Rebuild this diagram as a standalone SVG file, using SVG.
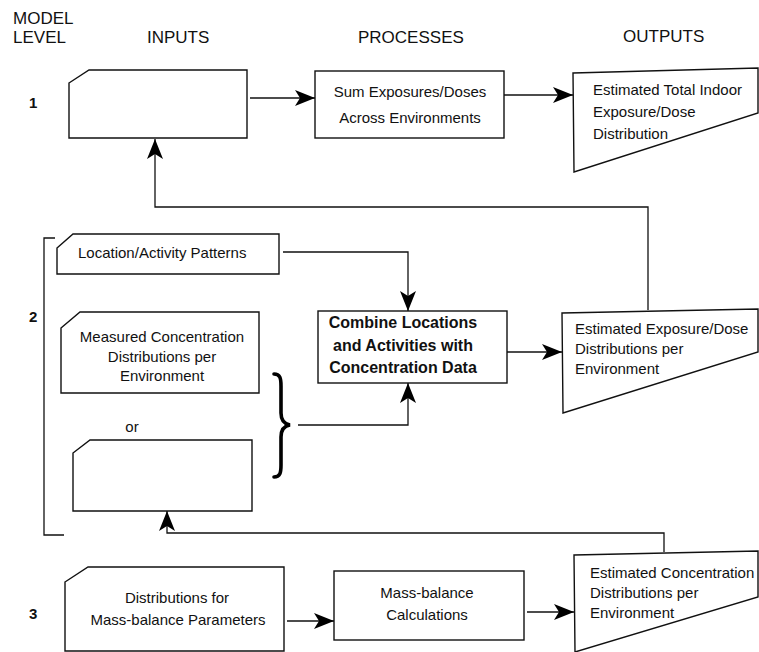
<svg xmlns="http://www.w3.org/2000/svg" width="759" height="652" viewBox="0 0 759 652">
<style>
  .shape { fill: #fff; stroke: #111; stroke-width: 1.4; }
  .line { fill: none; stroke: #111; stroke-width: 1.3; }
  .brace { fill: none; stroke: #000; stroke-width: 3.6; stroke-linecap: round; }
  text { font-family: "Liberation Sans", Arial, sans-serif; fill: #111; }
  .hdr { font-size: 17px; }
  .lvl { font-size: 15px; font-weight: bold; }
  .t { font-size: 15px; }
  .tb { font-size: 16px; font-weight: bold; }
  .c { text-anchor: middle; }
</style>
<defs>
  <marker id="arr" markerUnits="userSpaceOnUse" markerWidth="22" markerHeight="18" viewBox="-1 -9 22 18" refX="20" refY="0" orient="auto">
    <path d="M0,-8 L20,0 L0,8 L5,0 Z" fill="#000"/>
  </marker>
</defs>
<rect width="759" height="652" fill="#fff"/>

<g id="headers">
  <text class="hdr" x="13" y="24">MODEL</text>
  <text class="hdr" x="13" y="43">LEVEL</text>
  <text class="hdr" x="147" y="43">INPUTS</text>
  <text class="hdr" x="358" y="43">PROCESSES</text>
  <text class="hdr" x="623" y="42">OUTPUTS</text>
  <text class="lvl" x="29" y="108">1</text>
  <text class="lvl" x="29" y="322">2</text>
  <text class="lvl" x="29" y="619">3</text>
</g>

<g id="level2-bracket">
  <polyline class="line" points="55,238 44,238 44,535 64,535"/>
</g>

<g id="input1">
  <path class="shape" d="M69,83 L89,70 L247,70 L247,138 L69,138 Z"/>
</g>
<g id="process1">
  <rect class="shape" x="315" y="71" width="189" height="67"/>
  <text class="t c" x="410" y="97">Sum Exposures/Doses</text>
  <text class="t c" x="410" y="123">Across Environments</text>
</g>
<g id="output1">
  <path class="shape" d="M573,73 L758,68 L758,113 L574,172 Z"/>
  <text class="t" x="593" y="95">Estimated Total Indoor</text>
  <text class="t" x="593" y="117">Exposure/Dose</text>
  <text class="t" x="593" y="139">Distribution</text>
</g>

<g id="input-location">
  <path class="shape" d="M57,248 L73,234 L279,234 L279,274 L57,274 Z"/>
  <text class="t" x="78" y="258">Location/Activity Patterns</text>
</g>
<g id="input-measured">
  <path class="shape" d="M61,328 L80,312 L259,312 L259,393 L61,393 Z"/>
  <text class="t c" x="162" y="342">Measured Concentration</text>
  <text class="t c" x="162" y="362">Distributions per</text>
  <text class="t c" x="162" y="381">Environment</text>
</g>
<g id="or-label">
  <text class="t c" x="132" y="432">or</text>
</g>
<g id="input-or">
  <path class="shape" d="M73,453 L90,440 L252,440 L252,511 L73,511 Z"/>
</g>
<g id="brace">
  <path class="brace" d="M274,374 C280,374 281,378 281,386 L281,413 C281,420 284,424 290,425 C284,426 281,430 281,437 L281,465 C281,473 280,477 274,477"/>
</g>
<g id="process2">
  <rect class="shape" x="318" y="311" width="189" height="72"/>
  <text class="tb c" x="403" y="328">Combine Locations</text>
  <text class="tb c" x="403" y="351">and Activities with</text>
  <text class="tb c" x="403" y="373">Concentration Data</text>
</g>
<g id="output2">
  <path class="shape" d="M562,313 L758,309 L758,352 L563,413 Z"/>
  <text class="t" x="575" y="334">Estimated Exposure/Dose</text>
  <text class="t" x="575" y="354">Distributions per</text>
  <text class="t" x="575" y="374">Environment</text>
</g>

<g id="input3">
  <path class="shape" d="M65,582 L88,567 L284,567 L284,651 L65,651 Z"/>
  <text class="t c" x="177" y="603">Distributions for</text>
  <text class="t c" x="178" y="625">Mass-balance Parameters</text>
</g>
<g id="process3">
  <rect class="shape" x="334" y="571" width="190" height="69"/>
  <text class="t c" x="427" y="598">Mass-balance</text>
  <text class="t c" x="427" y="620">Calculations</text>
</g>
<g id="output3">
  <path class="shape" d="M574,555 L758,551 L758,597 L575,652 Z"/>
  <text class="t" x="590" y="578">Estimated Concentration</text>
  <text class="t" x="590" y="598">Distributions per</text>
  <text class="t" x="590" y="618">Environment</text>
</g>

<g id="connectors">
  <line class="line" x1="250" y1="98" x2="315" y2="98" marker-end="url(#arr)"/>
  <line class="line" x1="504" y1="95" x2="573" y2="95" marker-end="url(#arr)"/>
  <polyline class="line" points="648,310 648,207 155,207 155,139" marker-end="url(#arr)"/>
  <polyline class="line" points="283,252 408,252 408,311" marker-end="url(#arr)"/>
  <polyline class="line" points="298,425 408,425 408,383" marker-end="url(#arr)"/>
  <line class="line" x1="507" y1="352" x2="562" y2="352" marker-end="url(#arr)"/>
  <polyline class="line" points="664,552 664,533 167,533 167,511" marker-end="url(#arr)"/>
  <line class="line" x1="287" y1="621" x2="334" y2="621" marker-end="url(#arr)"/>
  <line class="line" x1="527" y1="612" x2="574" y2="612" marker-end="url(#arr)"/>
</g>
</svg>
